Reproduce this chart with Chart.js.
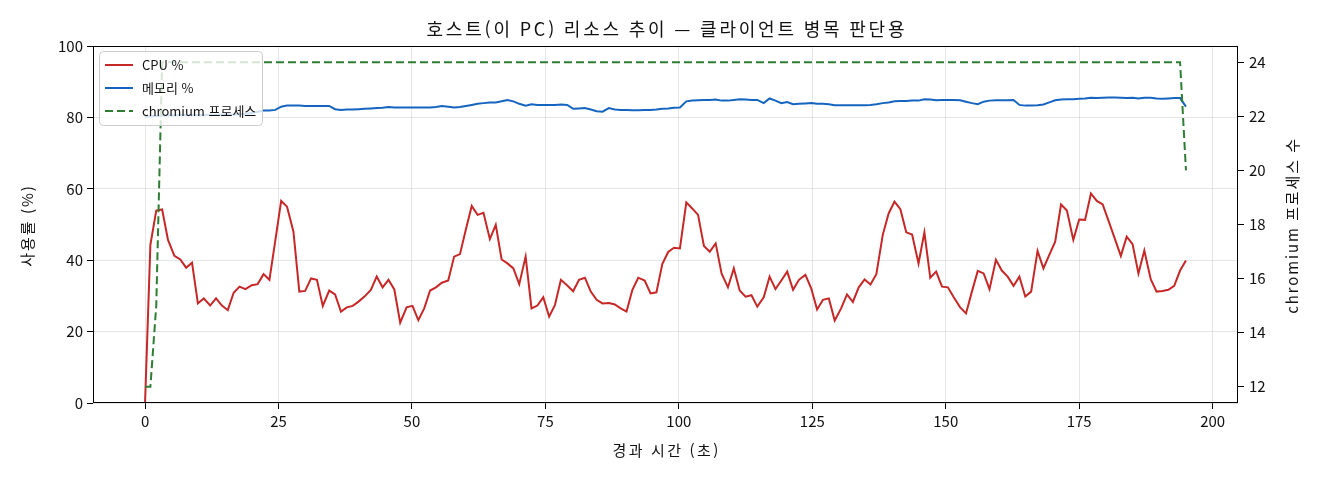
<!DOCTYPE html>
<html lang="ko">
<head>
<meta charset="utf-8">
<title>호스트 리소스 추이</title>
<script src="https://cdn.jsdelivr.net/npm/chart.js@4.4.1/dist/chart.umd.min.js"></script>
<style>
  html, body { margin: 0; padding: 0; background: #fff; }
  #wrap { width: 1320px; height: 480px; }
</style>
</head>
<body>
<div id="wrap"><canvas id="resource-chart" width="1320" height="480"></canvas></div>
<script>
// 샘플 시각 (경과 초)
const elapsedSec = [
  0, 1.0, 2.1, 3.2, 4.3, 5.5, 6.6, 7.7, 8.8, 9.9,
  11.0, 12.2, 13.3, 14.4, 15.5, 16.6, 17.7, 18.8, 20.0, 21.1,
  22.2, 23.3, 24.4, 25.5, 26.6, 27.8, 28.9, 30.0, 31.1, 32.2,
  33.3, 34.5, 35.6, 36.7, 37.8, 38.9, 40.0, 41.1, 42.3, 43.4,
  44.5, 45.6, 46.7, 47.8, 49.0, 50.1, 51.2, 52.3, 53.4, 54.5,
  55.6, 56.8, 57.9, 59.0, 60.1, 61.2, 62.3, 63.4, 64.6, 65.7,
  66.8, 67.9, 69.0, 70.1, 71.3, 72.4, 73.5, 74.6, 75.7, 76.8,
  77.9, 79.1, 80.2, 81.3, 82.4, 83.5, 84.6, 85.7, 86.9, 88.0,
  89.1, 90.2, 91.3, 92.4, 93.6, 94.7, 95.8, 96.9, 98.0, 99.1,
  100.2, 101.4, 102.5, 103.6, 104.7, 105.8, 106.9, 108.0, 109.2, 110.3,
  111.4, 112.5, 113.6, 114.7, 115.9, 117.0, 118.1, 119.2, 120.3, 121.4,
  122.5, 123.7, 124.8, 125.9, 127.0, 128.1, 129.2, 130.4, 131.5, 132.6,
  133.7, 134.8, 135.9, 137.0, 138.2, 139.3, 140.4, 141.5, 142.6, 143.7,
  144.9, 146.0, 147.1, 148.2, 149.3, 150.4, 151.5, 152.7, 153.8, 154.9,
  156.0, 157.1, 158.2, 159.4, 160.5, 161.6, 162.7, 163.8, 164.9, 166.0,
  167.2, 168.3, 169.4, 170.5, 171.6, 172.7, 173.9, 175.0, 176.1, 177.2,
  178.3, 179.4, 180.5, 181.7, 182.8, 183.9, 185.0, 186.1, 187.2, 188.4,
  189.5, 190.6, 191.7, 192.8, 193.9, 195.0
];

// CPU 사용률 (%)
const cpuPct = [
  0, 44.3, 53.9, 54.2, 45.7, 41.2, 40.2, 37.9, 39.3, 27.9,
  29.3, 27.3, 29.3, 27.3, 26.0, 30.9, 32.6, 31.9, 33.0, 33.3,
  36.1, 34.5, 45.5, 56.6, 55.0, 48.0, 31.2, 31.4, 34.9, 34.5,
  27.2, 31.5, 30.4, 25.6, 26.8, 27.2, 28.4, 29.8, 31.7, 35.4,
  32.4, 34.5, 31.8, 22.5, 26.8, 27.2, 23.2, 26.5, 31.5, 32.4,
  33.7, 34.3, 41.0, 41.7, 48.6, 55.2, 52.7, 53.3, 45.9, 49.9,
  40.2, 39.1, 37.7, 33.3, 41.0, 26.5, 27.3, 29.6, 24.2, 27.5,
  34.5, 32.9, 31.3, 34.5, 35.1, 31.2, 28.9, 27.9, 28.0, 27.6,
  26.5, 25.6, 31.7, 35.1, 34.3, 30.7, 31.0, 38.9, 42.3, 43.5,
  43.3, 56.2, 54.5, 52.7, 44.0, 42.4, 44.7, 36.3, 32.4, 37.7,
  31.5, 29.8, 30.2, 27.0, 29.6, 35.4, 31.9, 34.3, 36.8, 31.7,
  34.5, 35.9, 32.1, 26.2, 28.9, 29.3, 23.1, 26.5, 30.4, 28.3,
  32.4, 34.6, 33.2, 36.1, 47.1, 53.1, 56.4, 54.3, 47.8, 47.2,
  39.1, 47.8, 35.1, 36.8, 32.6, 32.4, 29.6, 26.8, 25.1, 31.2,
  37.0, 36.3, 31.9, 40.1, 37.1, 35.4, 32.8, 35.4, 29.8, 31.2,
  42.6, 37.7, 41.5, 45.2, 55.6, 53.9, 45.7, 51.4, 51.3, 58.7,
  56.6, 55.6, 51.0, 45.9, 41.2, 46.6, 44.5, 36.3, 42.7, 34.7,
  31.2, 31.4, 31.7, 32.8, 37.1, 39.9
];

// 메모리 사용률 (%)
const memPct = [
  80.2, 80.3, 80.4, 80.5, 80.6, 80.5, 80.6, 80.7, 80.6, 80.6,
  80.7, 80.8, 80.7, 80.8, 80.9, 80.8, 80.9, 81.0, 81.2, 81.6,
  81.9, 81.9, 82.1, 83.0, 83.3, 83.3, 83.3, 83.2, 83.2, 83.2,
  83.2, 83.2, 82.3, 82.1, 82.2, 82.2, 82.3, 82.4, 82.5, 82.6,
  82.7, 82.9, 82.8, 82.8, 82.8, 82.8, 82.8, 82.8, 82.8, 82.9,
  83.2, 83.0, 82.8, 82.9, 83.2, 83.5, 83.8, 84.0, 84.2, 84.2,
  84.5, 84.9, 84.5, 83.8, 83.3, 83.7, 83.5, 83.5, 83.5, 83.5,
  83.6, 83.5, 82.4, 82.5, 82.6, 82.2, 81.7, 81.6, 82.6, 82.2,
  82.1, 82.1, 82.0, 82.0, 82.1, 82.1, 82.2, 82.4, 82.5, 82.7,
  82.8, 84.5, 84.7, 84.8, 84.9, 84.9, 85.0, 84.7, 84.7, 84.9,
  85.1, 85.0, 84.9, 84.9, 84.0, 85.3, 84.7, 84.0, 84.3, 83.7,
  83.8, 83.9, 84.0, 83.8, 83.8, 83.7, 83.4, 83.4, 83.4, 83.4,
  83.4, 83.4, 83.5, 83.7, 84.0, 84.2, 84.5, 84.6, 84.6, 84.7,
  84.7, 85.1, 85.0, 84.8, 84.9, 84.9, 84.9, 84.8, 84.4, 84.0,
  83.7, 84.4, 84.7, 84.8, 84.8, 84.8, 84.9, 83.5, 83.3, 83.3,
  83.4, 83.6, 84.2, 84.8, 85.0, 85.1, 85.1, 85.2, 85.3, 85.5,
  85.4, 85.5, 85.6, 85.6, 85.5, 85.4, 85.5, 85.3, 85.5, 85.5,
  85.3, 85.2, 85.3, 85.4, 85.4, 83.0
];

// chromium 프로세스 수
const chromiumProcs = [
  12, 12, 15, 24, 24, 24, 24, 24, 24, 24,
  24, 24, 24, 24, 24, 24, 24, 24, 24, 24,
  24, 24, 24, 24, 24, 24, 24, 24, 24, 24,
  24, 24, 24, 24, 24, 24, 24, 24, 24, 24,
  24, 24, 24, 24, 24, 24, 24, 24, 24, 24,
  24, 24, 24, 24, 24, 24, 24, 24, 24, 24,
  24, 24, 24, 24, 24, 24, 24, 24, 24, 24,
  24, 24, 24, 24, 24, 24, 24, 24, 24, 24,
  24, 24, 24, 24, 24, 24, 24, 24, 24, 24,
  24, 24, 24, 24, 24, 24, 24, 24, 24, 24,
  24, 24, 24, 24, 24, 24, 24, 24, 24, 24,
  24, 24, 24, 24, 24, 24, 24, 24, 24, 24,
  24, 24, 24, 24, 24, 24, 24, 24, 24, 24,
  24, 24, 24, 24, 24, 24, 24, 24, 24, 24,
  24, 24, 24, 24, 24, 24, 24, 24, 24, 24,
  24, 24, 24, 24, 24, 24, 24, 24, 24, 24,
  24, 24, 24, 24, 24, 24, 24, 24, 24, 24,
  24, 24, 24, 24, 24, 20
];

const xTicks = [0, 25, 50, 75, 100, 125, 150, 175, 200];
const leftTicks = [0, 20, 40, 60, 80, 100];
const rightTicks = [12, 14, 16, 18, 20, 22, 24];

const chartTitle = '호스트(이 PC) 리소스 추이 — 클라이언트 병목 판단용';
const xAxisTitle = '경과 시간 (초)';
const leftAxisTitle = '사용률 (%)';
const rightAxisTitle = 'chromium 프로세스 수';

const FONT = '"Noto Sans CJK KR", "Noto Sans", sans-serif';
const TEXT = '#111';
const GRID = 'rgba(176,176,176,0.32)';

function points(values) {
  return elapsedSec.map((t, i) => ({ x: t, y: values[i] }));
}

function fixTicks(list) {
  return function (scale) {
    scale.ticks = list.map(v => ({ value: v }));
  };
}

function drawText(ctx, text, x, y, size, spacing, angle) {
  ctx.save();
  ctx.fillStyle = TEXT;
  ctx.font = size + 'px ' + FONT;
  ctx.textAlign = 'center';
  ctx.textBaseline = 'middle';
  if ('letterSpacing' in ctx) ctx.letterSpacing = spacing + 'px';
  ctx.translate(x + (angle ? 0 : spacing / 2), y - (angle ? -spacing / 2 : 0));
  if (angle) ctx.rotate(angle);
  ctx.fillText(text, 0, 0);
  ctx.restore();
}

// 제목, 축 제목, 테두리, 범례
const decorPlugin = {
  id: 'decor',
  afterDatasetsDraw(chart) {
    const { ctx, chartArea: a } = chart;
    ctx.save();
    ctx.strokeStyle = '#000';
    ctx.lineWidth = 1;
    ctx.strokeRect(Math.round(a.left) + 0.5, Math.round(a.top) + 0.5,
      Math.round(a.right - a.left) - 1, Math.round(a.bottom - a.top) - 1);
    ctx.restore();
  },
  afterDraw(chart) {
    const { ctx, chartArea: a } = chart;
    const midX = (a.left + a.right) / 2;
    const midY = (a.top + a.bottom) / 2;

    drawText(ctx, chartTitle, midX, 29, 18, 2.8, 0);
    drawText(ctx, xAxisTitle, midX, 450, 15, 2.5, 0);
    drawText(ctx, leftAxisTitle, 27, midY, 15, 2, -Math.PI / 2);
    drawText(ctx, rightAxisTitle, 1292, midY, 15, 1.9, -Math.PI / 2);

    // 범례
    const bx = a.left + 6, by = a.top + 5, bw = 163, bh = 74;
    ctx.save();
    ctx.beginPath();
    ctx.roundRect(bx + 0.5, by + 0.5, bw, bh, 4);
    ctx.fillStyle = 'rgba(255,255,255,0.8)';
    ctx.fill();
    ctx.strokeStyle = '#cccccc';
    ctx.lineWidth = 1;
    ctx.stroke();
    ctx.font = '13px ' + FONT;
    ctx.textBaseline = 'middle';
    chart.data.datasets.forEach((ds, i) => {
      const y = by + 14 + i * 23;
      ctx.beginPath();
      ctx.strokeStyle = ds.borderColor;
      ctx.lineWidth = ds.borderWidth;
      ctx.setLineDash(ds.borderDash || []);
      ctx.moveTo(bx + 6, y);
      ctx.lineTo(bx + 34, y);
      ctx.stroke();
      ctx.setLineDash([]);
      ctx.fillStyle = TEXT;
      ctx.fillText(ds.label, bx + 43, y);
    });
    ctx.restore();
  }
};

const ctx = document.getElementById('resource-chart').getContext('2d');
new Chart(ctx, {
  type: 'line',
  data: {
    datasets: [
      {
        label: 'CPU %',
        data: points(cpuPct),
        yAxisID: 'y',
        borderColor: '#c62828',
        borderWidth: 2,
        pointRadius: 0,
        order: 2
      },
      {
        label: '메모리 %',
        data: points(memPct),
        yAxisID: 'y',
        borderColor: '#1565c0',
        borderWidth: 2,
        pointRadius: 0,
        order: 1
      },
      {
        label: 'chromium 프로세스',
        data: points(chromiumProcs),
        yAxisID: 'y2',
        borderColor: '#2e7d32',
        borderWidth: 2,
        borderDash: [8, 4],
        pointRadius: 0,
        order: 0
      }
    ]
  },
  options: {
    responsive: false,
    animation: false,
    devicePixelRatio: 1,
    layout: { padding: { top: 46, left: 0, right: 0, bottom: 0 } },
    elements: { line: { tension: 0, fill: false } },
    plugins: {
      legend: { display: false },
      title: { display: false },
      tooltip: { enabled: false }
    },
    scales: {
      x: {
        type: 'linear',
        min: -9.75,
        max: 204.75,
        afterBuildTicks: fixTicks(xTicks),
        afterFit(scale) { scale.height = 77; },
        border: { display: false },
        grid: { color: GRID, tickColor: '#000', tickLength: 6, tickWidth: 1 },
        ticks: { color: TEXT, padding: 3, font: { family: FONT, size: 15 } }
      },
      y: {
        type: 'linear',
        position: 'left',
        min: 0,
        max: 100,
        afterBuildTicks: fixTicks(leftTicks),
        afterFit(scale) { scale.width = 93; },
        border: { display: false },
        grid: { color: GRID, tickColor: '#000', tickLength: 6, tickWidth: 1 },
        ticks: { color: TEXT, padding: 4, font: { family: FONT, size: 15 } }
      },
      y2: {
        type: 'linear',
        position: 'right',
        min: 11.4,
        max: 24.6,
        afterBuildTicks: fixTicks(rightTicks),
        afterFit(scale) { scale.width = 82; },
        border: { display: false },
        grid: { drawOnChartArea: false, tickColor: '#000', tickLength: 6, tickWidth: 1 },
        ticks: { color: TEXT, padding: 5, font: { family: FONT, size: 15 } }
      }
    }
  },
  plugins: [decorPlugin]
});
</script>
</body>
</html>
